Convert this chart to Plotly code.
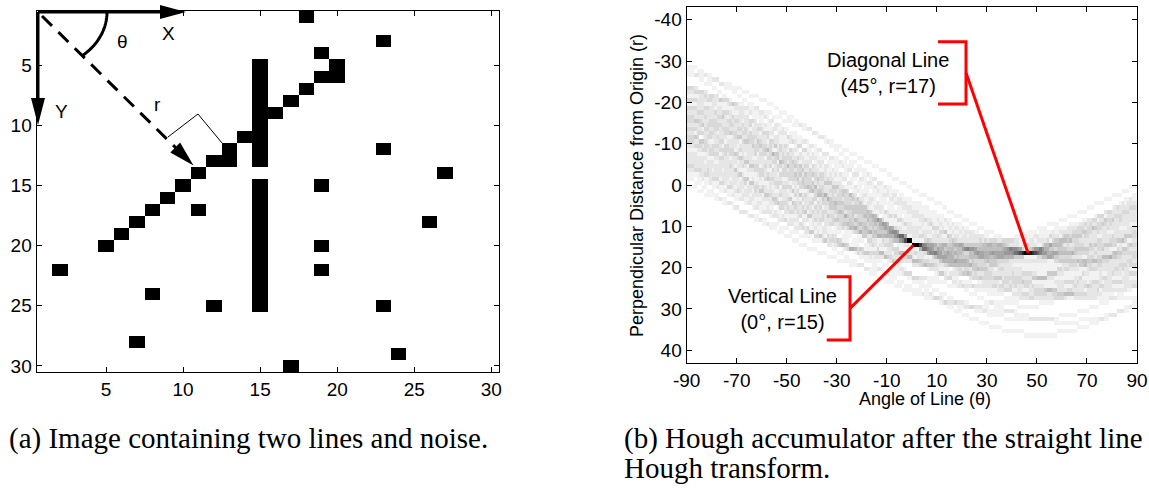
import numpy as np
import plotly.graph_objects as go

W, H = 1149, 489

# ---------------- data ----------------
# Binary test image: black pixels as (column, row), 1-based, 30 x 30 image
img_size = 30
diag_cols = [5, 6, 7, 8, 9, 10, 11, 12, 13, 13, 14, 16, 17, 18, 19, 20, 20]
diag_rows = [20, 19, 18, 17, 16, 15, 14, 13, 13, 12, 11, 9, 8, 7, 6, 6, 5]
vert_cols = [15] * 20
vert_rows = [5, 6, 7, 8, 9, 10, 11, 12, 13, 15, 16, 17, 18, 19, 20, 21, 22, 23, 24, 25]
noise_cols = [18, 19, 23, 23, 27, 19, 26, 19, 19, 23, 24, 17, 11, 2, 8, 12, 7]
noise_rows = [1, 4, 3, 12, 14, 15, 18, 20, 22, 25, 29, 30, 17, 22, 24, 25, 28]
img_ticks = [5, 10, 15, 20, 25, 30]

# Hough accumulator axes
theta_deg = list(range(-90, 90))          # 1 degree bins
rho_bins = list(range(-43, 43))           # 1 unit bins
theta_ticks = [-90, -70, -50, -30, -10, 10, 30, 50, 70, 90]
rho_ticks = [-40, -30, -20, -10, 0, 10, 20, 30, 40]

# annotated peaks (label values and where the pointers land)
peak_names = ["Vertical Line", "Diagonal Line"]
peak_theta_label = [0, 45]
peak_rho_label = [15, 17]
peak_theta_ptr = [0.6, 46.5]
peak_rho_ptr = [14.6, 16.5]

# ---------------- build image matrix ----------------
cols = diag_cols + vert_cols + noise_cols
rows = diag_rows + vert_rows + noise_rows
img = np.zeros((img_size, img_size))
for c, r in zip(cols, rows):
    img[r - 1, c - 1] = 1

# ---------------- Hough accumulator computed from the image pixels ----------------
pix = sorted(set(zip(cols, rows)))
acc = np.zeros((len(rho_bins), len(theta_deg)))
for j, t in enumerate(theta_deg):
    tr = np.deg2rad(t)
    for c, r in pix:
        rho = (c - 1) * np.cos(tr) + (r - 1) * np.sin(tr)
        k = int(np.floor(rho + 1e-9)) - rho_bins[0]
        if 0 <= k < len(rho_bins):
            acc[k, j] += 1
acc_x = [t + 0.5 for t in theta_deg]
acc_y = [k + 0.5 for k in rho_bins]

FONT = "Liberation Sans, Arial, Helvetica, sans-serif"
SERIF = "Liberation Serif, Times New Roman, serif"

fig = go.Figure()
fig.add_trace(go.Heatmap(
    z=img, x=list(range(1, img_size + 1)), y=list(range(1, img_size + 1)),
    colorscale=[[0, "white"], [1, "black"]], zmin=0, zmax=1, showscale=False,
    xaxis="x", yaxis="y", hoverinfo="skip"))
fig.add_trace(go.Heatmap(
    z=acc, x=acc_x, y=acc_y,
    colorscale=[[0, "white"], [1, "black"]], zmin=0, zmax=acc.max(), showscale=False,
    xaxis="x2", yaxis="y2", hoverinfo="skip"))

ax_common = dict(showline=True, linecolor="black", linewidth=1.3, mirror="ticks",
                 ticks="inside", ticklen=5, tickwidth=1, tickcolor="black",
                 showgrid=False, zeroline=False, automargin=False,
                 tickfont=dict(family=FONT, size=19, color="black"))

def tt(vals):
    return dict(tickvals=vals, ticktext=[str(v) for v in vals])

def pxp(x, y):
    return x / W, 1 - y / H

fig.update_layout(
    width=W, height=H, margin=dict(l=0, r=0, t=0, b=0, autoexpand=False),
    paper_bgcolor="white", plot_bgcolor="white", showlegend=False,
    xaxis=dict(domain=[36.7 / W, 499 / W], range=[0.5, 30.5], anchor="y", **tt(img_ticks), **ax_common),
    yaxis=dict(domain=[1 - 372 / H, 1 - 11 / H], range=[30.5, 0.5], anchor="x", **tt(img_ticks), **ax_common),
    xaxis2=dict(domain=[686.7 / W, 1137 / W], range=[-90, 90], anchor="y2", **tt(theta_ticks), **ax_common),
    yaxis2=dict(domain=[1 - 362.7 / H, 1 - 7.3 / H], range=[43, -43], anchor="x2", **tt(rho_ticks), **ax_common),
)

shapes = []
annots = []

# ----- left panel decorations (pixel positions -> paper) -----
def pline(x0, y0, x1, y1, width=3, color="black", dash=None):
    a = pxp(x0, y0); b = pxp(x1, y1)
    d = dict(type="line", xref="paper", yref="paper", x0=a[0], y0=a[1], x1=b[0], y1=b[1],
             line=dict(color=color, width=width))
    if dash:
        d["line"]["dash"] = dash
    shapes.append(d)

def ppath(pts, fill="black", close=True, width=0, color="black"):
    s = ""
    for i, (x, y) in enumerate(pts):
        X, Y = pxp(x, y)
        s += ("M" if i == 0 else "L") + f"{X:.5f},{Y:.5f} "
    if close:
        s += "Z"
    shapes.append(dict(type="path", xref="paper", yref="paper", path=s,
                       fillcolor=fill if close else "rgba(0,0,0,0)",
                       line=dict(color=color, width=width)))

ox, oy = 38, 12
# X arrow
pline(ox, oy, 162, oy, width=3)
ppath([(160, oy - 7), (186, oy), (160, oy + 7)])
# Y arrow
pline(ox, oy, ox, 100, width=3)
ppath([(ox - 7, 98), (ox, 125), (ox + 7, 98)])
# dashed r arrow
pline(ox + 4, oy + 4, 176, 148, width=3, dash="14px,9px")
ppath([(170.3, 152.4), (193.5, 165.5), (180.1, 142.4)])
# theta arc
arc = [(ox + 69 * np.cos(np.deg2rad(a)), oy + 57 * np.sin(np.deg2rad(a))) for a in np.linspace(0, 50, 30)]
ppath(arc, close=False, width=3)
# right-angle mark
ppath([(168, 137), (198, 114), (222, 143)], close=False, width=1)

for txt, x, y in [("X", 168, 33), ("Y", 61, 112), ("θ", 123, 42), ("r", 157, 104)]:
    X, Y = pxp(x, y)
    annots.append(dict(text=txt, x=X, y=Y, xref="paper", yref="paper", showarrow=False,
                       xanchor="center", yanchor="middle",
                       font=dict(family=FONT, size=19, color="black")))

# ----- right panel decorations (in accumulator data coords) -----
def R(px, py):
    return (px - 686.7) / (450.3 / 180) - 90, (py - 7.3) / (355.4 / 86) - 43

RED = "#ff0000"
brackets = [  # (left px, right px, top py, bottom py)
    (826.7, 850, 276.7, 340),
    (938, 966, 41.7, 104),
]
text_pos = [(782, 308.5), (887.5, 72.5)]
for i in range(2):
    xl, xr, yt, yb = brackets[i]
    (a0, b0), (a1, b1) = R(xl, yt), R(xr, yb)
    path = f"M{a0},{b0} L{a1},{b0} L{a1},{b1} L{a0},{b1}"
    shapes.append(dict(type="path", xref="x2", yref="y2", path=path,
                       line=dict(color=RED, width=3), fillcolor="rgba(0,0,0,0)"))
    mx, my = R(xr, (yt + yb) / 2)
    shapes.append(dict(type="line", xref="x2", yref="y2", x0=mx, y0=my,
                       x1=peak_theta_ptr[i], y1=peak_rho_ptr[i],
                       line=dict(color=RED, width=3)))
    tx, ty = R(*text_pos[i])
    annots.append(dict(
        text=f"{peak_names[i]}<br>({peak_theta_label[i]}°, r={peak_rho_label[i]})",
        x=tx, y=ty, xref="x2", yref="y2", showarrow=False, align="center",
        xanchor="center", yanchor="middle",
        font=dict(family=FONT, size=20, color="black")))

# axis titles for the accumulator
X, Y = pxp(637, 186)
annots.append(dict(text="Perpendicular Distance from Origin (r)", x=X, y=Y, xref="paper", yref="paper",
                   textangle=-90, showarrow=False, xanchor="center", yanchor="middle",
                   font=dict(family=FONT, size=18, color="black")))
X, Y = pxp(925, 399)
annots.append(dict(text="Angle of Line (θ)", x=X, y=Y, xref="paper", yref="paper",
                   showarrow=False, xanchor="center", yanchor="middle",
                   font=dict(family=FONT, size=18, color="black")))

# captions
for txt, x, y in [("(a) Image containing two lines and noise.", 7, 438),
                  ("(b) Hough accumulator after the straight line", 622, 438),
                  ("Hough transform.", 622, 468)]:
    X, Y = pxp(x, y)
    annots.append(dict(text=txt, x=X, y=Y, xref="paper", yref="paper", showarrow=False,
                       xanchor="left", yanchor="middle",
                       font=dict(family=SERIF, size=29, color="black")))

fig.update_layout(shapes=shapes, annotations=annots)
fig.write_html("out.html", config={"displayModeBar": False},
               post_script="document.body.style.margin='0px';")
